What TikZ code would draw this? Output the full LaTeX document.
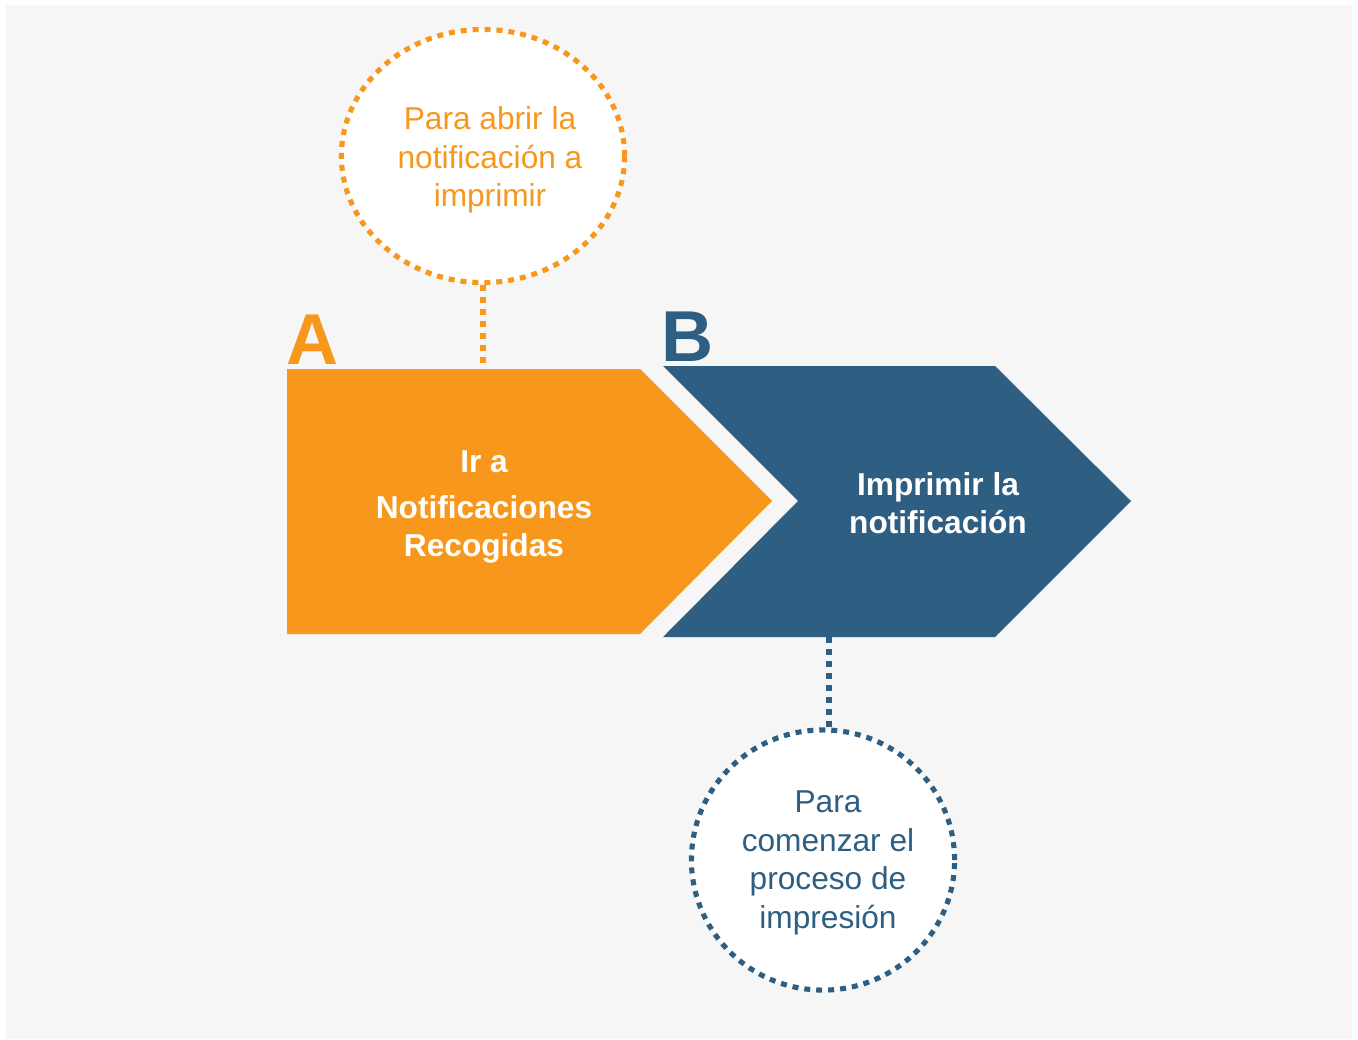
\documentclass[tikz,border=0pt]{standalone}
\usepackage{fontspec}
\setmainfont{Liberation Sans}
\usetikzlibrary{shapes.geometric}
\definecolor{naranja}{HTML}{F7981D}
\definecolor{azul}{HTML}{2E5F82}
\definecolor{fondo}{HTML}{F6F6F6}
\tikzset{
  puntos/.style={line width=1.45pt,dash pattern=on 1.7pt off 1.7pt},
  burbuja/.style={ellipse,puntos,fill=white,inner sep=0pt},
  nota/.style={align=center,inner sep=0pt,font=\fontsize{9}{11}\selectfont},
  paso/.style={text=white,align=center,font=\fontsize{9}{10.8}\selectfont\bfseries},
  letra/.style={anchor=base west,inner sep=0pt,font=\fontsize{20.5}{21}\selectfont\bfseries}
}
\begin{document}
\begin{tikzpicture}[x=0.01cm,y=-0.01cm]
\useasboundingbox (0,0) rectangle (1358,1039);
\fill[fondo] (6,5) rectangle (1352,1039);
\begin{scope}
  \fill[naranja] (287,369) -- (640,369) -- (772,501) -- (640,634) -- (287,634) -- cycle;
  \node[paso] (pasoA) at (484,507) {Ir a\\[2.3pt]Notificaciones\\Recogidas};
  \node[letra,text=naranja] (letraA) at (286,364) {A};
  \coordinate (Aarriba) at (483,369);
  \node[burbuja,draw=naranja,minimum width=2.83cm,minimum height=2.53cm] (circA) at (483,156) {};
  \node[nota,text=naranja] (notaA) at (490,160) {Para abrir la\\notificación a\\imprimir};
  \draw[naranja,puntos] (circA.south) -- (Aarriba);
\end{scope}
\begin{scope}
  \fill[azul] (663,366) -- (995,366) -- (1131,501) -- (995,637) -- (663,637) -- (798,501) -- cycle;
  \node[paso] (pasoB) at (938,503) {Imprimir la\\notificación};
  \node[letra,text=azul] (letraB) at (661,361) {B};
  \coordinate (Babajo) at (829,637);
  \node[burbuja,draw=azul,minimum width=2.63cm,minimum height=2.6cm] (circB) at (823,860) {};
  \node[nota,text=azul] (notaB) at (828,863) {Para\\comenzar el\\proceso de\\impresión};
  \draw[azul,puntos] (Babajo) -- (Babajo |- circB.north);
\end{scope}
\end{tikzpicture}
\end{document}
